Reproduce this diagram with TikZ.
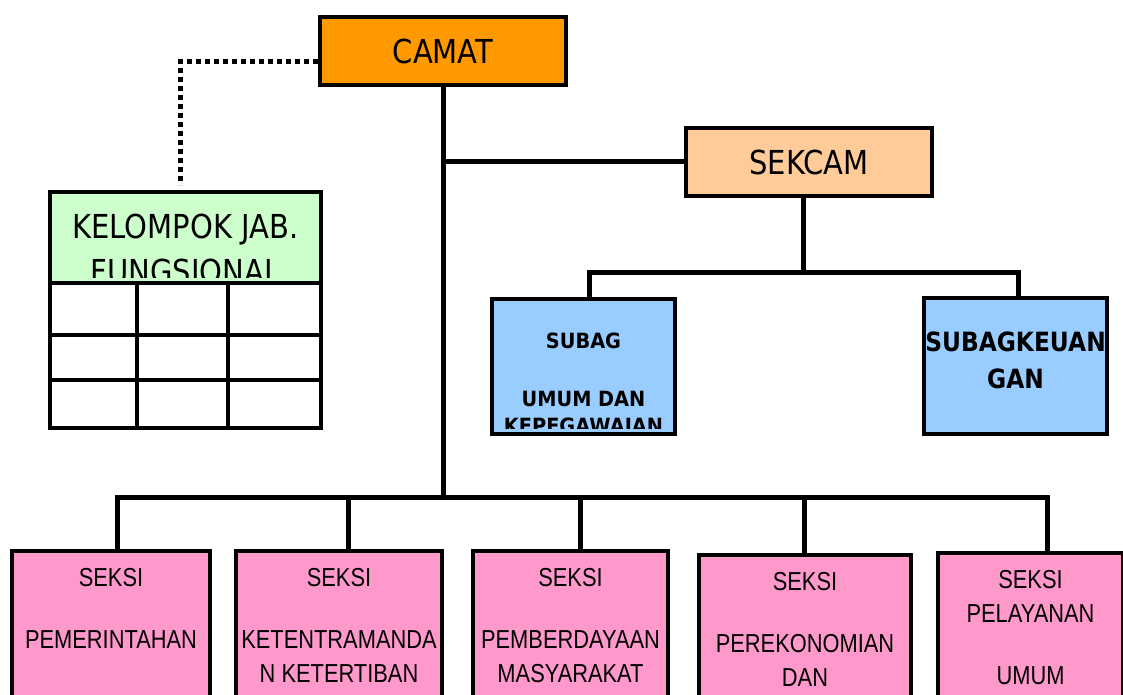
\documentclass[tikz,border=0pt]{standalone}
\usepackage{fontspec}
\usetikzlibrary{matrix,positioning}
\newfontfamily\boxfont[FakeStretch=0.88]{DejaVu Sans}
\newfontfamily\subagfont[FakeStretch=0.92]{DejaVu Sans}
\newfontfamily\seksifont[FakeStretch=0.84]{Liberation Sans}
\definecolor{camatcol}{HTML}{FF9900}
\definecolor{sekcamcol}{HTML}{FFCC99}
\definecolor{jabcol}{HTML}{CCFFCC}
\definecolor{subagcol}{HTML}{99CCFF}
\definecolor{seksicol}{HTML}{FF99CC}

\begin{document}
\begin{tikzpicture}[x=1pt,y=-1pt]
\tikzset{
unit/.style={
  draw,
  line width=4pt,
  inner sep=0pt,
  align=center
  },
toptext/.style 2 args={
  path picture={
    \clip ([yshift=6pt]path picture bounding box.south west)
      rectangle (path picture bounding box.north east);
    \node[anchor=north, align=center, inner sep=0pt, minimum size=0pt]
      at ([yshift=-#1]path picture bounding box.north) {#2};}
  },
seksi/.style={
  unit,
  fill=seksicol,
  anchor=north,
  minimum height=200pt,
  font=\seksifont\fontsize{26}{34}\selectfont
  },
conn/.style={line width=5pt}
}
\clip (0,0) rectangle (1123,695);

\node[unit, fill=camatcol, minimum width=246pt, minimum height=68pt,
  font=\boxfont\fontsize{33}{40}\selectfont] (camat) at (443,51) {CAMAT};
\node[unit, fill=sekcamcol, minimum width=246pt, minimum height=68pt,
  font=\boxfont\fontsize{33}{40}\selectfont] (sekcam) at (809,162) {SEKCAM};

\node[unit, fill=jabcol, minimum width=271pt, minimum height=91pt,
  font=\boxfont\fontsize{33}{45}\selectfont,
  toptext={20pt}{KELOMPOK JAB.\\FUNGSIONAL}] (jab) at (185.5,237.5) {};
\matrix [matrix of nodes, nodes in empty cells, anchor=north west,
  inner sep=0pt, outer sep=0pt, column sep=-4pt, row sep=-4pt,
  nodes={draw, line width=4pt, fill=white, inner sep=0pt},
  column 1/.style={nodes={minimum width=87pt}},
  column 2/.style={nodes={minimum width=91pt}},
  column 3/.style={nodes={minimum width=93pt}},
  row 1/.style={nodes={minimum height=52pt}},
  row 2/.style={nodes={minimum height=45pt}},
  row 3/.style={nodes={minimum height=48pt}}]
  (jabtbl) at ([yshift=4pt]jab.south west)
{
   & & \\
   & & \\
   & & \\
};

\node[unit, fill=subagcol, minimum width=183pt, minimum height=135pt,
  font=\subagfont\bfseries\fontsize{21}{27}\selectfont,
  toptext={32pt}{SUBAG\\[31pt]UMUM DAN\\KEPEGAWAIAN}] (subag) at (583.5,366.5) {};
\node[unit, fill=subagcol, minimum width=183pt, minimum height=136pt,
  font=\boxfont\bfseries\fontsize{26.5}{37}\selectfont,
  toptext={32pt}{SUBAGKEUAN\\GAN}] (keu) at (1015.5,366) {};

\node[seksi, minimum width=198pt, toptext={15pt}{SEKSI\\[28pt]PEMERINTAHAN}] (s1) at (111,549) {};
\node[seksi, minimum width=206pt, toptext={15pt}{SEKSI\\[28pt]KETENTRAMANDA\\N KETERTIBAN}] (s2) at (339,549) {};
\node[seksi, minimum width=195pt, toptext={15pt}{SEKSI\\[28pt]PEMBERDAYAAN\\MASYARAKAT}] (s3) at (570.5,549) {};
\node[seksi, minimum width=212pt, toptext={15pt}{SEKSI\\[28pt]PEREKONOMIAN\\DAN}] (s4) at (805,553) {};
\node[seksi, minimum width=185pt, toptext={15pt}{SEKSI\\PELAYANAN\\[28pt]UMUM}] (s5) at (1030.5,551) {};

\coordinate (bus) at (443,497);
\coordinate (subbus) at (803,272);

\draw[conn] (camat.south) -- (camat.south |- bus);
\draw[conn] (camat.south |- sekcam.west) -- (sekcam.west);
\draw[conn] ([xshift=-6pt]sekcam.south) -- (subbus);
\draw[conn] ([xshift=5.5pt]subag.north) |- (subbus) -| ([xshift=2.5pt]keu.north);
\foreach \s/\dx in {s1/6,s2/9,s3/10,s4/-1,s5/17}
    \draw[conn] ([xshift=\dx pt]\s.north) |- (bus);
\draw[conn, dash pattern=on 5pt off 4pt] ([yshift=-11pt]camat.west)
    -| ([xshift=-5.5pt, yshift=5pt]jab.north);

\end{tikzpicture}
\end{document}
